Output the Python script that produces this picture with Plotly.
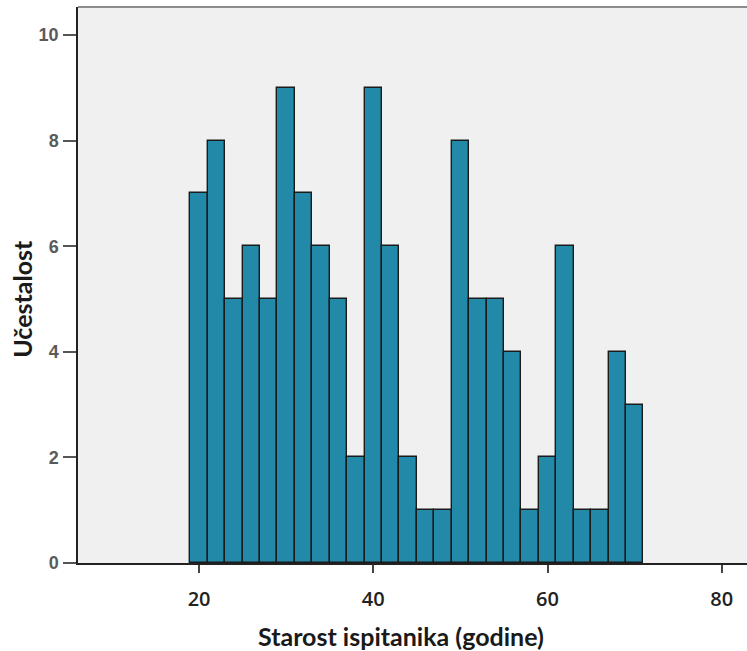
import plotly.graph_objects as go

# Age bins (bin centres, width 2 years) and counts per bin
age_bins = [20, 22, 24, 26, 28, 30, 32, 34, 36, 38, 40, 42, 44, 46, 48,
            50, 52, 54, 56, 58, 60, 62, 64, 66, 68, 70]
counts = [7, 8, 5, 6, 5, 9, 7, 6, 5, 2, 9, 6, 2, 1, 1,
          8, 5, 5, 4, 1, 2, 6, 1, 1, 4, 3]
x_ticks = [20, 40, 60, 80]
y_ticks = [0, 2, 4, 6, 8, 10]

fig = go.Figure(go.Bar(
    x=age_bins,
    y=counts,
    width=2,
    marker=dict(color="#2389a9", line=dict(color="#1b1b1b", width=1.4)),
))

fig.update_layout(
    width=747, height=651,
    margin=dict(l=78, r=0, t=7, b=88),
    paper_bgcolor="white",
    plot_bgcolor="#f0f0f0",
    showlegend=False,
    bargap=0,
    xaxis=dict(
        range=[6.1, 82.9],
        tickvals=x_ticks,
        ticks="outside", ticklen=8, tickwidth=1.5, tickcolor="#444",
        ticklabelstandoff=9,
        tickfont=dict(family="Open Sans", size=20, weight=600, color="#222"),
        showline=True, linecolor="#222", linewidth=1.5,
        showgrid=False, zeroline=False,
    ),
    yaxis=dict(
        range=[0, 10.53],
        tickvals=y_ticks,
        ticks="outside", ticklen=13, tickwidth=1.5, tickcolor="#555",
        ticklabelstandoff=1,
        tickfont=dict(family="Liberation Sans", size=18, weight="bold", color="#5a5a5a"),
        showline=True, linecolor="#222", linewidth=1.5,
        showgrid=False, zeroline=False,
    ),
    shapes=[dict(type="line", xref="paper", yref="paper",
                 x0=0, x1=1, y0=1, y1=1,
                 line=dict(color="#8c8c8c", width=2))],
    annotations=[
        dict(text="<b>Starost ispitanika (godine)</b>", xref="paper", yref="paper",
             x=0.4835, y=-0.132, xanchor="center", yanchor="middle",
             showarrow=False, font=dict(family="Lato", size=25, color="#1a1a1a")),
        dict(text="<b>Učestalost</b>", xref="paper", yref="paper",
             x=-0.083, y=0.476, xanchor="center", yanchor="middle", textangle=-90,
             showarrow=False, font=dict(family="Lato", size=25, color="#1a1a1a")),
    ],
)

fig.write_html("out.html")
